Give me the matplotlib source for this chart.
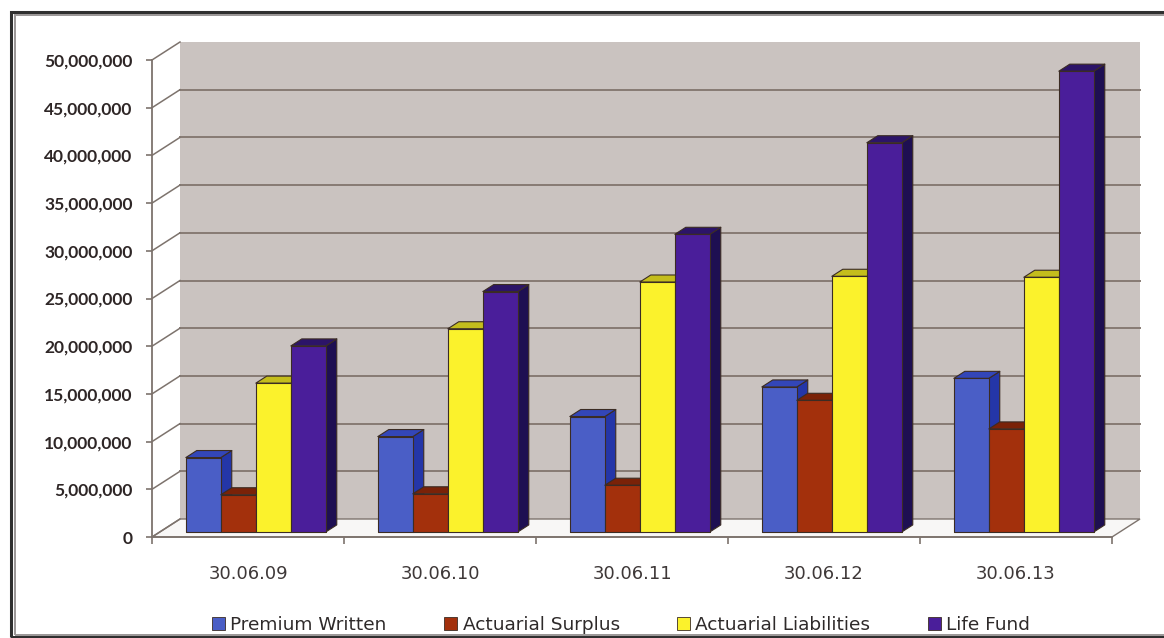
import matplotlib
matplotlib.use("Agg")
import matplotlib.pyplot as plt
from matplotlib.patches import Polygon, Rectangle, Patch
from matplotlib.lines import Line2D
from matplotlib.ticker import FuncFormatter

# ---- data ----
categories = ["30.06.09", "30.06.10", "30.06.11", "30.06.12", "30.06.13"]
series_names = ["Premium Written", "Actuarial Surplus", "Actuarial Liabilities", "Life Fund"]
premium_written = [7.8e6, 10.0e6, 12.1e6, 15.2e6, 16.1e6]
actuarial_surplus = [3.9e6, 4.0e6, 4.9e6, 13.8e6, 10.8e6]
actuarial_liabilities = [15.6e6, 21.3e6, 26.2e6, 26.8e6, 26.7e6]
life_fund = [19.5e6, 25.2e6, 31.2e6, 40.8e6, 48.3e6]
y_ticks = list(range(0, 50_000_001, 5_000_000))

series = [premium_written, actuarial_surplus, actuarial_liabilities, life_fund]

# face colours per series: front, side, top
face_colors = [
    ("#4a5ec6", "#2436a8", "#3346b8"),
    ("#a3300c", "#6e1e06", "#7a2208"),
    ("#fbf22c", "#b9b41a", "#c4bd1c"),
    ("#4a1e9a", "#1e0f52", "#2c1468"),
]

W, H = 1164, 638
fig = plt.figure(figsize=(W / 100, H / 100), dpi=100)
fig.patch.set_facecolor("white")

ax = fig.add_axes([152 / W, (H - 537) / H, 960 / W, 477 / H])
n_cat = len(categories)
ymax = y_ticks[-1]
ax.set_xlim(0, n_cat)
ax.set_ylim(0, ymax)
ax.set_facecolor("none")

# oblique depth offset of the chart box (in data units)
DX = 28 / 192
DY = 18 * ymax / 477

wall_col = "#cac3c0"
grid_col = "#877b73"
axis_col = "#7d736d"

# back wall
wall = Polygon([(DX, DY), (n_cat + DX, DY), (n_cat + DX, ymax + DY), (DX, ymax + DY)],
               closed=True, facecolor=wall_col, edgecolor="none", zorder=0.5, clip_on=False)
ax.add_patch(wall)
for v in y_ticks[1:-1]:
    ax.add_line(Line2D([DX, n_cat + DX], [v + DY, v + DY], color=grid_col, lw=1.4,
                       zorder=0.6, clip_on=False))

# floor
floor = Polygon([(0, 0), (n_cat, 0), (n_cat + DX, DY), (DX, DY)], closed=True,
                facecolor="#f8f7f6", edgecolor=axis_col, lw=1.0, zorder=0.7, clip_on=False)
ax.add_patch(floor)

# side-wall diagonals from the value axis to the back wall
for v in y_ticks:
    ax.add_line(Line2D([0, DX], [v, v + DY], color=axis_col, lw=1.1, zorder=0.8, clip_on=False))

# 3-D columns
bw = 0.1823
f0 = 0.28          # depth fraction of the column front faces
depth = 0.39       # column depth as a fraction of the floor depth
ddx, ddy = depth * DX, depth * DY
z = 2
for k in range(n_cat):
    for j, vals in enumerate(series):
        front_c, side_c, top_c = face_colors[j]
        x0 = k + (1 - len(series) * bw) / 2 + j * bw + f0 * DX
        yb = f0 * DY
        yt = vals[k] + f0 * DY
        kw = dict(closed=True, edgecolor="#3b2c24", lw=0.8, clip_on=False, joinstyle="round")
        ax.add_patch(Polygon([(x0 + bw, yb), (x0 + bw + ddx, yb + ddy),
                              (x0 + bw + ddx, yt + ddy), (x0 + bw, yt)],
                             facecolor=side_c, zorder=z, **kw))
        ax.add_patch(Polygon([(x0, yt), (x0 + bw, yt), (x0 + bw + ddx, yt + ddy),
                              (x0 + ddx, yt + ddy)], facecolor=top_c, zorder=z, **kw))
        ax.add_patch(Polygon([(x0, yb), (x0 + bw, yb), (x0 + bw, yt), (x0, yt)],
                             facecolor=front_c, zorder=z + 0.1, **kw))
        z += 1

# axes styling
for s in ("top", "right"):
    ax.spines[s].set_visible(False)
for s in ("left", "bottom"):
    ax.spines[s].set_color(axis_col)
    ax.spines[s].set_linewidth(1.3)
    ax.spines[s].set_zorder(0.9)

ax.set_yticks(y_ticks)
ax.yaxis.set_major_formatter(FuncFormatter(lambda v, p: f"{int(v):,}"))
ax.tick_params(axis="y", direction="out", length=4, width=1.2, color=axis_col, pad=10,
               labelcolor="#2e2626")
for lab in ax.get_yticklabels():
    lab.set_fontweight("bold")
    lab.set_family("Lato")
    lab.set_fontsize(12.5)

ax.set_xticks(range(n_cat + 1))
ax.set_xticklabels([])
ax.tick_params(axis="x", which="major", direction="out", length=5, width=1.2, color=axis_col)
ax.set_xticks([k + 0.5 for k in range(n_cat)], minor=True)
ax.set_xticklabels(categories, minor=True)
ax.tick_params(axis="x", which="minor", length=0, pad=20, labelsize=13, labelcolor="#3e3838")

# legend
handles = [Patch(facecolor=face_colors[j][0], edgecolor="#3b2c24", lw=0.6, label=series_names[j])
           for j in range(len(series))]
fig.legend(handles=handles, loc="center", bbox_to_anchor=(621 / W, 13 / H), ncol=4,
           frameon=False, fontsize=13.3, handlelength=0.7, handleheight=0.7,
           handletextpad=0.3, columnspacing=3.1, labelcolor="#2e2a2a")

# outer frame
fig.patches.append(Rectangle((11 / W, 1.5 / H), 1.2, (H - 12 - 1.5) / H, fill=False,
                             edgecolor="#2f2f2f", lw=2.2, transform=fig.transFigure))
fig.patches.append(Rectangle((14.5 / W, 3.5 / H), 1.2, (H - 15 - 3.5) / H, fill=False,
                             edgecolor="#9a9696", lw=1.4, transform=fig.transFigure))

fig.savefig("out.png", dpi=100)
